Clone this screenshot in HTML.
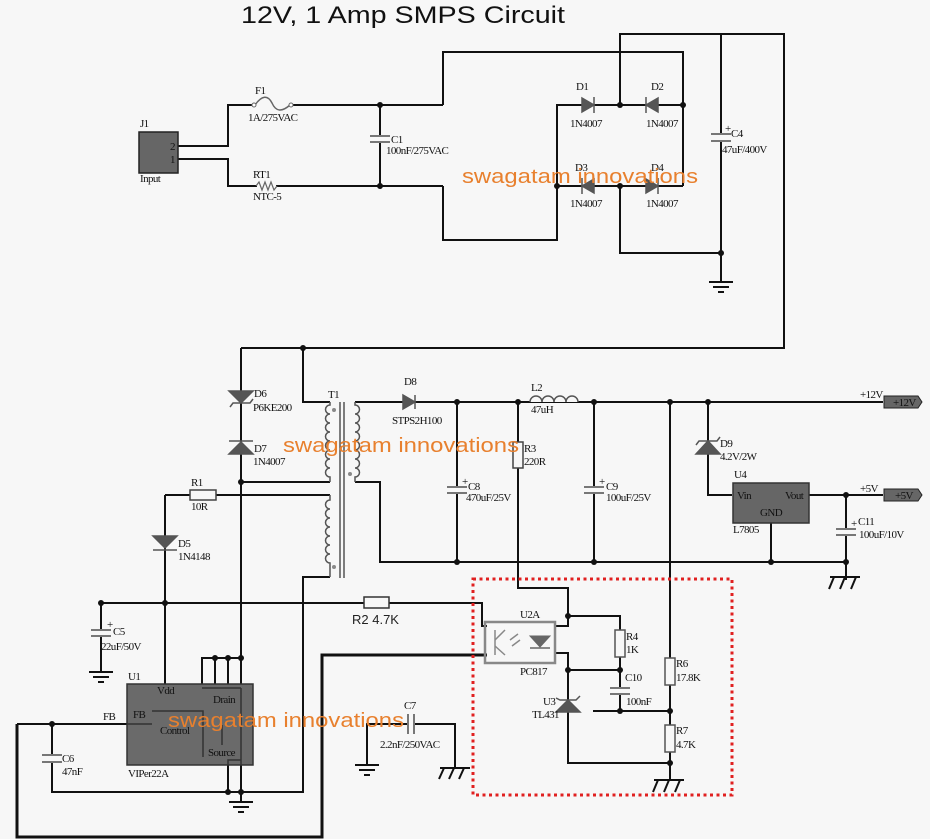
<!DOCTYPE html>
<html><head><meta charset="utf-8"><style>
html,body{margin:0;padding:0;background:#f7f7f7;}
svg{display:block;}
.l{font-family:"Liberation Serif",serif;font-size:11px;fill:#111;letter-spacing:-0.6px;}
.w{font-family:"Liberation Sans",sans-serif;font-size:20px;fill:#e8802e;}
</style></head><body>
<svg width="930" height="839" viewBox="0 0 930 839" xmlns="http://www.w3.org/2000/svg">
<rect width="930" height="839" fill="#f7f7f7"/>
<text x="241" y="23" font-family="Liberation Sans, sans-serif" font-size="24" fill="#111" textLength="324" lengthAdjust="spacingAndGlyphs">12V, 1 Amp SMPS Circuit</text>

<g stroke="#111" stroke-width="2" fill="none">
<polyline points="178,146 228,146 228,105 253,105"/>
<polyline points="292,105 443,105"/>
<polyline points="178,159 228,159 228,186 257,186"/>
<polyline points="276,186 443,186"/>
<line x1="380" y1="105" x2="380" y2="136"/>
<line x1="380" y1="142" x2="380" y2="186"/>
<polyline points="443,105 443,52 683,52 683,186"/>
<polyline points="443,186 443,240 557,240 557,105 582,105"/>
<line x1="594" y1="105" x2="646" y2="105"/>
<line x1="658" y1="105" x2="683" y2="105"/>
<line x1="557" y1="186" x2="582" y2="186"/>
<line x1="594" y1="186" x2="646" y2="186"/>
<line x1="658" y1="186" x2="683" y2="186"/>
<polyline points="620,105 620,34 784,34 784,348 241,348"/>
<polyline points="620,186 620,253 721,253"/>
<line x1="721" y1="34" x2="721" y2="134"/>
<line x1="721" y1="141" x2="721" y2="282"/>
<line x1="241" y1="348" x2="241" y2="792"/>
<polyline points="303,348 303,402 330,402"/>
<polyline points="241,482 330,482"/>
<polyline points="165,495 190,495"/>
<polyline points="216,495 330,495"/>
<polyline points="330,577 303,577 303,792 52,792 52,762"/>
<line x1="52" y1="755" x2="52" y2="724"/>
<line x1="165" y1="495" x2="165" y2="684"/>
<line x1="101" y1="603" x2="101" y2="630"/>
<line x1="101" y1="636" x2="101" y2="672"/>
<line x1="101" y1="603" x2="364" y2="603"/>
<polyline points="389,603 482,603 482,626 487,626"/>
<polyline points="17,724 127,724"/>
<polyline points="17,724 17,837 322,837 322,655 487,655" stroke-width="3"/>
<polyline points="202,684 202,658 241,658"/>
<line x1="215" y1="658" x2="215" y2="684"/>
<line x1="228" y1="658" x2="228" y2="684"/>
<line x1="228" y1="765" x2="228" y2="792"/>
<line x1="241" y1="792" x2="241" y2="802"/>
<polyline points="367,765 367,724 408,724"/>
<polyline points="414,724 455,724 455,768"/>
<polyline points="355,402 403,402"/>
<line x1="413" y1="402" x2="883" y2="402"/>
<polyline points="355,482 380,482 380,562 846,562"/>
<line x1="457" y1="402" x2="457" y2="487"/>
<line x1="457" y1="493" x2="457" y2="562"/>
<line x1="594" y1="402" x2="594" y2="487"/>
<line x1="594" y1="493" x2="594" y2="562"/>
<polyline points="518,402 518,588 568,588 568,626 555,626"/>
<polyline points="568,616 620,616 620,630"/>
<line x1="620" y1="657" x2="620" y2="688"/>
<line x1="620" y1="694" x2="620" y2="711"/>
<polyline points="555,653 568,653 568,763 670,763"/>
<line x1="568" y1="670" x2="620" y2="670"/>
<line x1="593" y1="711" x2="670" y2="711"/>
<line x1="670" y1="402" x2="670" y2="780"/>
<polyline points="708,402 708,495 732,495"/>
<line x1="809" y1="495" x2="883" y2="495"/>
<line x1="771" y1="523" x2="771" y2="562"/>
<line x1="846" y1="495" x2="846" y2="529"/>
<line x1="846" y1="535" x2="846" y2="580"/>
</g>

<g fill="#111">
<circle cx="380" cy="105" r="3"/><circle cx="380" cy="186" r="3"/>
<circle cx="620" cy="105" r="3"/><circle cx="683" cy="105" r="3"/>
<circle cx="557" cy="186" r="3"/><circle cx="620" cy="186" r="3"/>
<circle cx="721" cy="253" r="3"/>
<circle cx="303" cy="348" r="3"/><circle cx="241" cy="482" r="3"/>
<circle cx="101" cy="603" r="3"/><circle cx="165" cy="603" r="3"/>
<circle cx="215" cy="658" r="3"/><circle cx="228" cy="658" r="3"/><circle cx="241" cy="658" r="3"/>
<circle cx="52" cy="724" r="3"/><circle cx="228" cy="792" r="3"/><circle cx="241" cy="792" r="3"/>
<circle cx="457" cy="402" r="3"/><circle cx="518" cy="402" r="3"/><circle cx="594" cy="402" r="3"/>
<circle cx="670" cy="402" r="3"/><circle cx="708" cy="402" r="3"/>
<circle cx="457" cy="562" r="3"/><circle cx="594" cy="562" r="3"/><circle cx="771" cy="562" r="3"/><circle cx="846" cy="562" r="3"/>
<circle cx="846" cy="495" r="3"/>
<circle cx="568" cy="616" r="3"/><circle cx="568" cy="670" r="3"/><circle cx="620" cy="670" r="3"/>
<circle cx="620" cy="711" r="3"/><circle cx="670" cy="711" r="3"/><circle cx="670" cy="763" r="3"/>
</g>

<rect x="139" y="132" width="39" height="41" fill="#666" stroke="#222" stroke-width="1.5"/>
<text class="l" x="170" y="150">2</text><text class="l" x="170" y="163">1</text>
<text class="l" x="140" y="127">J1</text><text class="l" x="140" y="182">Input</text>
<path d="M255,105 C262,95 268,95 272,103 C276,112 282,112 290,105" stroke="#666" stroke-width="1.5" fill="none"/>
<circle cx="254" cy="105" r="2" fill="#fff" stroke="#666"/><circle cx="291" cy="105" r="2" fill="#fff" stroke="#666"/>
<text class="l" x="255" y="94">F1</text><text class="l" x="248" y="121">1A/275VAC</text>
<polyline points="256,186 259,182 262,190 265,182 268,190 271,182 274,190 277,186" stroke="#666" stroke-width="1.2" fill="none"/>
<text class="l" x="253" y="178">RT1</text><text class="l" x="253" y="200">NTC-5</text>
<g stroke="#777" stroke-width="2"><line x1="370" y1="136" x2="390" y2="136"/><line x1="370" y1="142" x2="390" y2="142"/></g>
<text class="l" x="391" y="143">C1</text><text class="l" x="386" y="154">100nF/275VAC</text>
<g fill="#555" stroke="#555" stroke-width="1.5">
<polygon points="582,98 582,112 594,105"/><line x1="594" y1="97" x2="594" y2="113"/>
<polygon points="658,98 658,112 646,105"/><line x1="646" y1="97" x2="646" y2="113"/>
<polygon points="594,179 594,193 582,186"/><line x1="582" y1="178" x2="582" y2="194"/>
<polygon points="646,179 646,193 658,186"/><line x1="658" y1="178" x2="658" y2="194"/>
</g>
<text class="l" x="576" y="90">D1</text><text class="l" x="570" y="127">1N4007</text>
<text class="l" x="651" y="90">D2</text><text class="l" x="646" y="127">1N4007</text>
<text class="l" x="575" y="171">D3</text><text class="l" x="570" y="207">1N4007</text>
<text class="l" x="651" y="171">D4</text><text class="l" x="646" y="207">1N4007</text>
<g stroke="#777" stroke-width="2"><line x1="711" y1="134" x2="731" y2="134"/><line x1="711" y1="141" x2="731" y2="141"/></g>
<text class="l" x="725" y="132">+</text><text class="l" x="731" y="137">C4</text><text class="l" x="722" y="153">47uF/400V</text>

<g stroke="#111" stroke-width="2">
<line x1="709" y1="282" x2="733" y2="282"/><line x1="713" y1="287" x2="729" y2="287"/><line x1="718" y1="292" x2="724" y2="292"/>
<line x1="89" y1="672" x2="113" y2="672"/><line x1="93" y1="677" x2="109" y2="677"/><line x1="98" y1="682" x2="104" y2="682"/>
<line x1="229" y1="802" x2="253" y2="802"/><line x1="233" y1="807" x2="249" y2="807"/><line x1="238" y1="812" x2="244" y2="812"/>
<line x1="355" y1="765" x2="379" y2="765"/><line x1="359" y1="770" x2="375" y2="770"/><line x1="364" y1="775" x2="370" y2="775"/>
<line x1="440" y1="768" x2="470" y2="768"/><line x1="444" y1="768" x2="439" y2="779"/><line x1="454" y1="768" x2="449" y2="779"/><line x1="464" y1="768" x2="459" y2="779"/>
<line x1="830" y1="577" x2="860" y2="577"/><line x1="834" y1="577" x2="829" y2="589"/><line x1="845" y1="577" x2="840" y2="589"/><line x1="856" y1="577" x2="851" y2="589"/>
<line x1="654" y1="780" x2="684" y2="780"/><line x1="658" y1="780" x2="653" y2="792"/><line x1="669" y1="780" x2="664" y2="792"/><line x1="680" y1="780" x2="675" y2="792"/>
</g>

<g fill="#555" stroke="#555" stroke-width="1.5">
<polygon points="229,391 253,391 241,403"/><polyline points="230,407 233,403 250,403 253,399" fill="none"/>
<polygon points="229,454 253,454 241,442"/><line x1="229" y1="441" x2="253" y2="441"/>
<polygon points="153,536 177,536 165,548"/><line x1="153" y1="550" x2="177" y2="550"/>
</g>
<text class="l" x="254" y="397">D6</text><text class="l" x="253" y="411">P6KE200</text>
<text class="l" x="254" y="452">D7</text><text class="l" x="253" y="465">1N4007</text>
<text class="l" x="178" y="547">D5</text><text class="l" x="178" y="560">1N4148</text>
<rect x="190" y="490" width="26" height="10" fill="#f7f7f7" stroke="#444" stroke-width="1.5"/>
<text class="l" x="191" y="486">R1</text><text class="l" x="191" y="510">10R</text>
<g stroke="#777" stroke-width="2"><line x1="91" y1="630" x2="111" y2="630"/><line x1="91" y1="636" x2="111" y2="636"/></g>
<text class="l" x="107" y="628">+</text><text class="l" x="113" y="635">C5</text><text class="l" x="101" y="650">22uF/50V</text>
<g stroke="#555" stroke-width="1.5" fill="none">
<line x1="340" y1="402" x2="340" y2="578"/><line x1="344" y1="402" x2="344" y2="578"/>
<path d="M330,402 L330,405 a4,4 0 0 0 0,9 a4,4 0 0 0 0,9 a4,4 0 0 0 0,9 a4,4 0 0 0 0,9 a4,4 0 0 0 0,9 a4,4 0 0 0 0,9 a4,4 0 0 0 0,9 a4,4 0 0 0 0,9 L330,482"/>
<path d="M355,402 L355,405 a4,4 0 0 1 0,9 a4,4 0 0 1 0,9 a4,4 0 0 1 0,9 a4,4 0 0 1 0,9 a4,4 0 0 1 0,9 a4,4 0 0 1 0,9 a4,4 0 0 1 0,9 a4,4 0 0 1 0,9 L355,482"/>
<path d="M330,495 L330,500 a4,4 0 0 0 0,9 a4,4 0 0 0 0,9 a4,4 0 0 0 0,9 a4,4 0 0 0 0,9 a4,4 0 0 0 0,9 a4,4 0 0 0 0,9 a4,4 0 0 0 0,9 L330,577"/>
</g>
<g fill="#888"><circle cx="334" cy="410" r="2"/><circle cx="350" cy="474" r="2"/><circle cx="334" cy="567" r="2"/></g>
<text class="l" x="328" y="398">T1</text>
<rect x="364" y="597" width="25" height="11" fill="#f7f7f7" stroke="#333" stroke-width="1.5"/>
<text x="352" y="624" font-family="Liberation Sans, sans-serif" font-size="13" fill="#222">R2 4.7K</text>
<rect x="127" y="684" width="126" height="81" fill="#6a6a6a" stroke="#333" stroke-width="1.5"/>
<g stroke="#333" stroke-width="1.5" fill="none">
<polyline points="152,711 203,711 203,757"/><line x1="127" y1="724" x2="152" y2="724"/>
<polyline points="202,688 241,688"/><line x1="222" y1="725" x2="222" y2="745"/><line x1="241" y1="688" x2="241" y2="765"/>
<polyline points="228,765 228,760 241,760"/>
</g>
<text class="l" x="128" y="680">U1</text><text class="l" x="157" y="694">Vdd</text>
<text class="l" x="213" y="703">Drain</text><text class="l" x="133" y="718">FB</text>
<text class="l" x="160" y="734">Control</text><text class="l" x="208" y="756">Source</text>
<text class="l" x="128" y="777">VIPer22A</text><text class="l" x="103" y="720">FB</text>
<g stroke="#777" stroke-width="2"><line x1="42" y1="755" x2="62" y2="755"/><line x1="42" y1="762" x2="62" y2="762"/></g>
<text class="l" x="62" y="762">C6</text><text class="l" x="62" y="775">47nF</text>
<g stroke="#777" stroke-width="2"><line x1="408" y1="714" x2="408" y2="734"/><line x1="414" y1="714" x2="414" y2="734"/></g>
<text class="l" x="404" y="709">C7</text><text class="l" x="380" y="748">2.2nF/250VAC</text>
<g fill="#555" stroke="#555" stroke-width="1.5"><polygon points="403,395 403,409 415,402"/><line x1="415" y1="395" x2="415" y2="409"/></g>
<text class="l" x="404" y="385">D8</text><text class="l" x="392" y="424">STPS2H100</text>
<g stroke="#777" stroke-width="2"><line x1="447" y1="487" x2="467" y2="487"/><line x1="447" y1="493" x2="467" y2="493"/>
<line x1="584" y1="487" x2="604" y2="487"/><line x1="584" y1="493" x2="604" y2="493"/></g>
<text class="l" x="462" y="485">+</text><text class="l" x="468" y="490">C8</text><text class="l" x="466" y="501">470uF/25V</text>
<text class="l" x="599" y="485">+</text><text class="l" x="606" y="490">C9</text><text class="l" x="606" y="501">100uF/25V</text>
<path d="M530,402 a6,6 0 0 1 12,0 a6,6 0 0 1 12,0 a6,6 0 0 1 12,0 a6,6 0 0 1 12,0" stroke="#555" stroke-width="1.5" fill="#f7f7f7"/>
<text class="l" x="531" y="391">L2</text><text class="l" x="531" y="413">47uH</text>
<rect x="513" y="442" width="10" height="26" fill="#f7f7f7" stroke="#444" stroke-width="1.5"/>
<text class="l" x="524" y="452">R3</text><text class="l" x="524" y="465">220R</text>
<g fill="#555" stroke="#555" stroke-width="1.5"><polygon points="696,454 720,454 708,441"/><polyline points="696,445 699,441 717,441 720,437" fill="none"/></g>
<text class="l" x="720" y="447">D9</text><text class="l" x="720" y="460">4.2V/2W</text>
<rect x="733" y="483" width="76" height="40" fill="#666" stroke="#333" stroke-width="1.5"/>
<text class="l" x="737" y="499">Vin</text><text class="l" x="785" y="499">Vout</text><text class="l" x="760" y="516">GND</text>
<text class="l" x="734" y="478">U4</text><text class="l" x="733" y="533">L7805</text>
<polygon points="884,396 918,396 922,402 918,408 884,408" fill="#666" stroke="#222" stroke-width="1"/>
<text class="l" x="893" y="406" style="fill:#111">+12V</text><text class="l" x="860" y="398">+12V</text>
<polygon points="884,489 918,489 922,495 918,501 884,501" fill="#666" stroke="#222" stroke-width="1"/>
<text class="l" x="895" y="499" style="fill:#111">+5V</text><text class="l" x="860" y="492">+5V</text>
<g stroke="#777" stroke-width="2"><line x1="836" y1="529" x2="856" y2="529"/><line x1="836" y1="535" x2="856" y2="535"/></g>
<text class="l" x="851" y="527">+</text><text class="l" x="858" y="525">C11</text><text class="l" x="859" y="538">100uF/10V</text>
<rect x="485" y="622" width="70" height="41" fill="none" stroke="#888" stroke-width="2.5"/>
<g stroke="#888" stroke-width="1.5" fill="none"><line x1="495" y1="630" x2="495" y2="655"/><line x1="495" y1="640" x2="505" y2="630"/><line x1="495" y1="646" x2="505" y2="655"/>
<line x1="510" y1="640" x2="518" y2="634"/><line x1="512" y1="646" x2="520" y2="640"/></g>
<g fill="#666" stroke="#666"><polygon points="530,636 550,636 540,647"/><line x1="530" y1="648" x2="550" y2="648" stroke-width="1.5"/></g>
<text class="l" x="520" y="618">U2A</text><text class="l" x="520" y="675">PC817</text>
<rect x="615" y="630" width="10" height="27" fill="#f7f7f7" stroke="#555" stroke-width="1.5"/>
<text class="l" x="626" y="640">R4</text><text class="l" x="626" y="653">1K</text>
<g stroke="#777" stroke-width="2"><line x1="610" y1="688" x2="630" y2="688"/><line x1="610" y1="694" x2="630" y2="694"/></g>
<text class="l" x="625" y="681">C10</text><text class="l" x="626" y="705">100nF</text>
<rect x="665" y="658" width="10" height="27" fill="#f7f7f7" stroke="#555" stroke-width="1.5"/>
<text class="l" x="676" y="667">R6</text><text class="l" x="676" y="681">17.8K</text>
<rect x="665" y="725" width="10" height="27" fill="#f7f7f7" stroke="#555" stroke-width="1.5"/>
<text class="l" x="676" y="734">R7</text><text class="l" x="676" y="748">4.7K</text>
<g fill="#555" stroke="#555" stroke-width="1.5"><polygon points="556,712 580,712 568,700"/><polyline points="556,698 560,700 576,700 580,696" fill="none"/></g>
<text class="l" x="543" y="705">U3</text><text class="l" x="532" y="718">TL431</text>
<rect x="473" y="579" width="259" height="216" fill="none" stroke="#e02020" stroke-width="3" stroke-dasharray="3,3.5"/>

<text class="w" x="462" y="183" textLength="236" lengthAdjust="spacingAndGlyphs">swagatam innovations</text>
<text class="w" x="283" y="452" textLength="236" lengthAdjust="spacingAndGlyphs">swagatam innovations</text>
<text class="w" x="168" y="727" textLength="236" lengthAdjust="spacingAndGlyphs">swagatam innovations</text>
</svg>
</body></html>
